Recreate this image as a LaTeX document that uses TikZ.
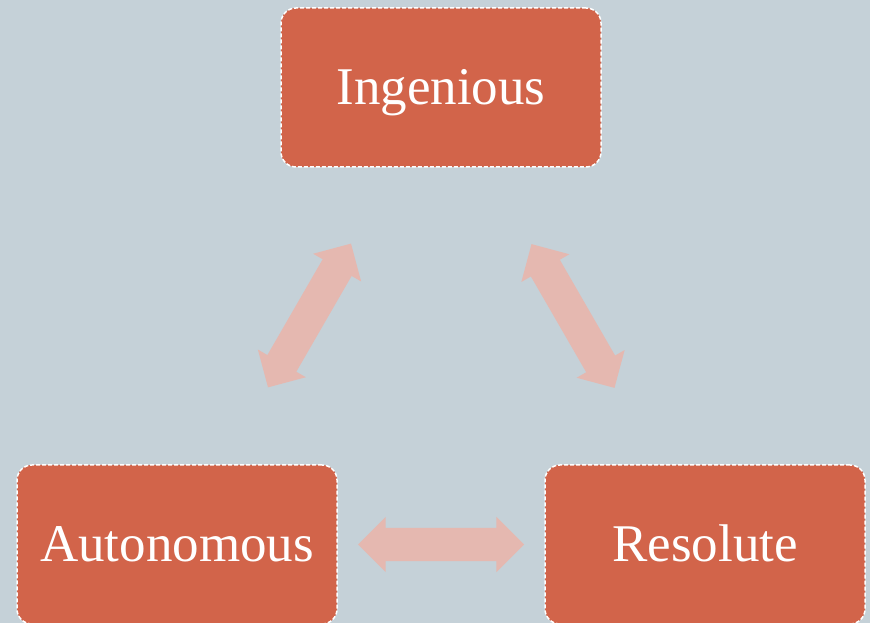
\documentclass[tikz,border=0pt]{standalone}
\usepackage{fontspec}
\setmainfont{Liberation Serif}
\usetikzlibrary{shapes.arrows}
\definecolor{bgc}{RGB}{197,209,216}
\definecolor{boxc}{RGB}{210,100,74}
\definecolor{arrc}{RGB}{229,184,176}
\begin{document}
\begin{tikzpicture}[x=1pt, y=1pt,
  trait/.style={rectangle, rounded corners=15pt, fill=boxc, draw=white, line width=1.5pt,
    dash pattern=on 4pt off 2pt, minimum width=320pt, minimum height=159pt,
    text=white, text height=35pt, text depth=0pt, font=\fontsize{53}{60}\selectfont},
  link/.style={double arrow, fill=arrc, inner xsep=0pt, inner ysep=16.5pt,
    double arrow head extend=11pt, double arrow tip angle=90, minimum height=166pt}]
\fill[bgc] (0,0) rectangle (870,623);
\useasboundingbox (0,0) rectangle (870,623);
\node[trait] (trait0) at (441,535.5){Ingenious};
\node[trait] (trait1) at (177,78.5){Autonomous};
\node[trait] (trait2) at (705,78.5){Resolute};
\node[link, rotate=60] (link0) at (309.5,307.5){};
\node[link, rotate=-60] (link1) at (573,307){};
\node[link] (link2) at (441,78.5){};

\end{tikzpicture}
\end{document}
